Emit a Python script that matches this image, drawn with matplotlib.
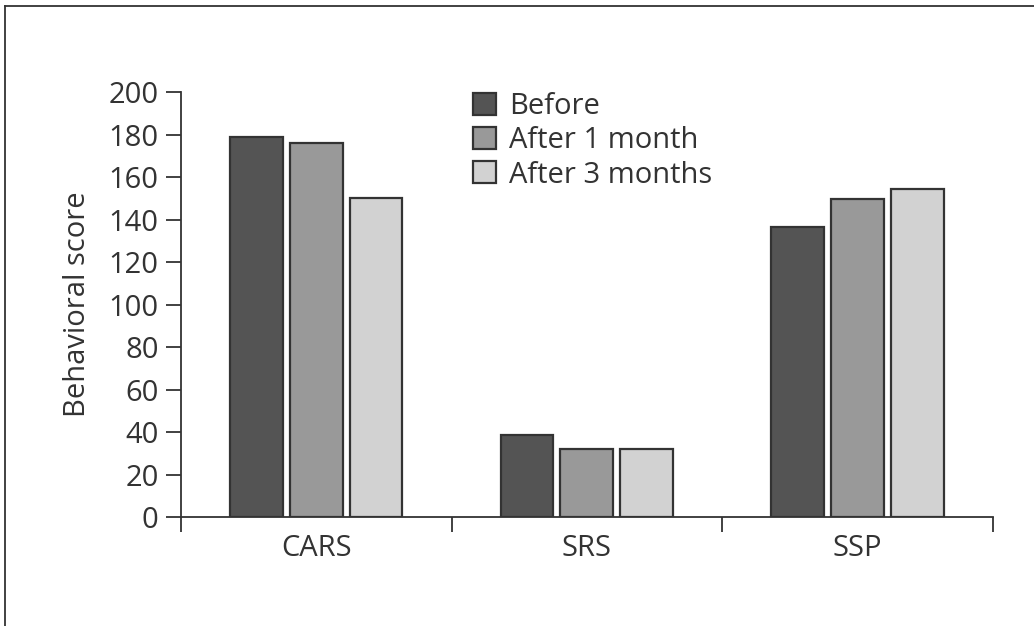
import matplotlib.pyplot as plt
import numpy as np

plt.rcParams['font.family'] = ['Open Sans', 'DejaVu Sans']

categories = ["CARS", "SRS", "SSP"]
series = ["Before", "After 1 month", "After 3 months"]
before = [179, 38.5, 136.5]
after_1m = [176, 32, 149.5]
after_3m = [150, 32, 154.5]
colors = ["#545454", "#999999", "#d2d2d2"]

fs = 21

fig = plt.figure(figsize=(10.34, 6.26), dpi=100)
ax = fig.add_axes([0.175, 0.174, 0.785, 0.679])

# frame lines around the figure (top and left)
fig.add_artist(plt.Line2D([0.005, 1.0], [0.991, 0.991], color="#333333", lw=1.3))
fig.add_artist(plt.Line2D([0.005, 0.005], [0.0, 0.991], color="#333333", lw=1.3))

x = np.arange(len(categories)) + 0.5
width = 0.195
step = 0.221
for i, (vals, name) in enumerate(zip([before, after_1m, after_3m], series)):
    ax.bar(x + (i - 1) * step, vals, width, color=colors[i], edgecolor="#333333",
           linewidth=1.6, label=name)

ax.set_xlim(0, 3)
ax.set_ylim(0, 200)
ax.set_yticks(range(0, 201, 20))
ax.set_xticks([0, 1, 2, 3])
ax.set_xticklabels([])
ax.set_xticks(x, minor=True)
ax.set_xticklabels(categories, minor=True)
ax.tick_params(axis="x", which="major", length=11, width=1.3, color="#333333", direction="out")
ax.tick_params(axis="x", which="minor", length=0, pad=12, labelsize=fs, labelcolor="#333333")
ax.tick_params(axis="y", length=11, width=1.3, color="#333333", labelsize=fs,
               labelcolor="#333333", pad=5)

for s in ["top", "right"]:
    ax.spines[s].set_visible(False)
for s in ["left", "bottom"]:
    ax.spines[s].set_color("#333333")
    ax.spines[s].set_linewidth(1.3)

ax.set_ylabel("Behavioral score", fontsize=fs, color="#333333", labelpad=12)

leg = ax.legend(loc="upper left", bbox_to_anchor=(0.3596, 1.0), frameon=False,
                fontsize=fs, handlelength=0.78, handleheight=0.78, handletextpad=0.45,
                labelspacing=0.18, borderaxespad=0, borderpad=0)
for t in leg.get_texts():
    t.set_color("#333333")

fig.savefig("out.png", dpi=100)
